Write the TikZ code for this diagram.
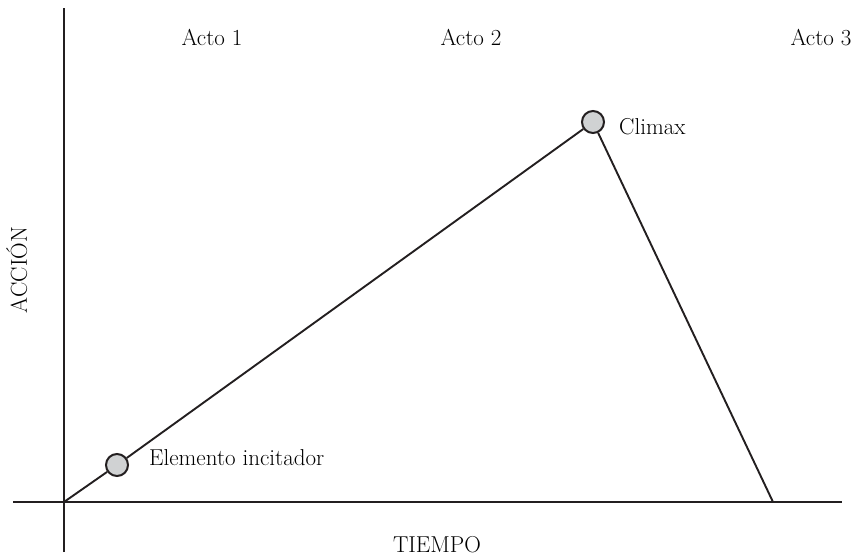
\documentclass[tikz,border=0pt]{standalone}
\usepackage{fontspec}
\begin{document}
\begin{tikzpicture}[x=1pt,y=-1pt,
  lbl/.style={font=\fontsize{23}{27}\selectfont, inner sep=0pt, anchor=base},
  axis/.style={line width=2.4pt, draw={rgb,255:red,35;green,31;blue,32}},
  edge/.style={line width=1.9pt, draw={rgb,255:red,35;green,31;blue,32}},
  dot/.style={circle, minimum size=22pt, inner sep=0pt, line width=2pt,
    draw={rgb,255:red,35;green,31;blue,32}, fill={rgb,255:red,208;green,210;blue,211}}]
\useasboundingbox (0,0) rectangle (855,556);
% axes
\coordinate (yt) at (64,8);
\coordinate (yb) at (64,552);
\coordinate (xl) at (13,502);
\coordinate (xr) at (842,502);
\draw[axis] (yb) -- (yt);
\draw[axis] (xl) -- (xr);
% triangle
\coordinate (O) at (64,502);
\coordinate (E) at (773,502);
\node[dot] (inc) at (117,465) {};
\node[dot] (cli) at (593,122) {};
\draw[edge] (O) -- (inc);
\draw[edge] (inc) -- (cli);
\draw[edge, line join=round] (cli) -- (E);
% labels
\node[lbl] (a1) at (212,46) {Acto 1};
\node[lbl] (a2) at (471,46) {Acto 2};
\node[lbl] (a3) at (821,46) {Acto 3};
\node[lbl, anchor=base west] (lc) at (619,135) {Climax};
\node[lbl, anchor=base west] (li) at (149,465) {Elemento incitador};
\node[lbl] (lt) at (437,552) {TIEMPO};
\node[lbl, rotate=90] (la) at (27,270) {ACCIÓN};
\end{tikzpicture}
\end{document}
